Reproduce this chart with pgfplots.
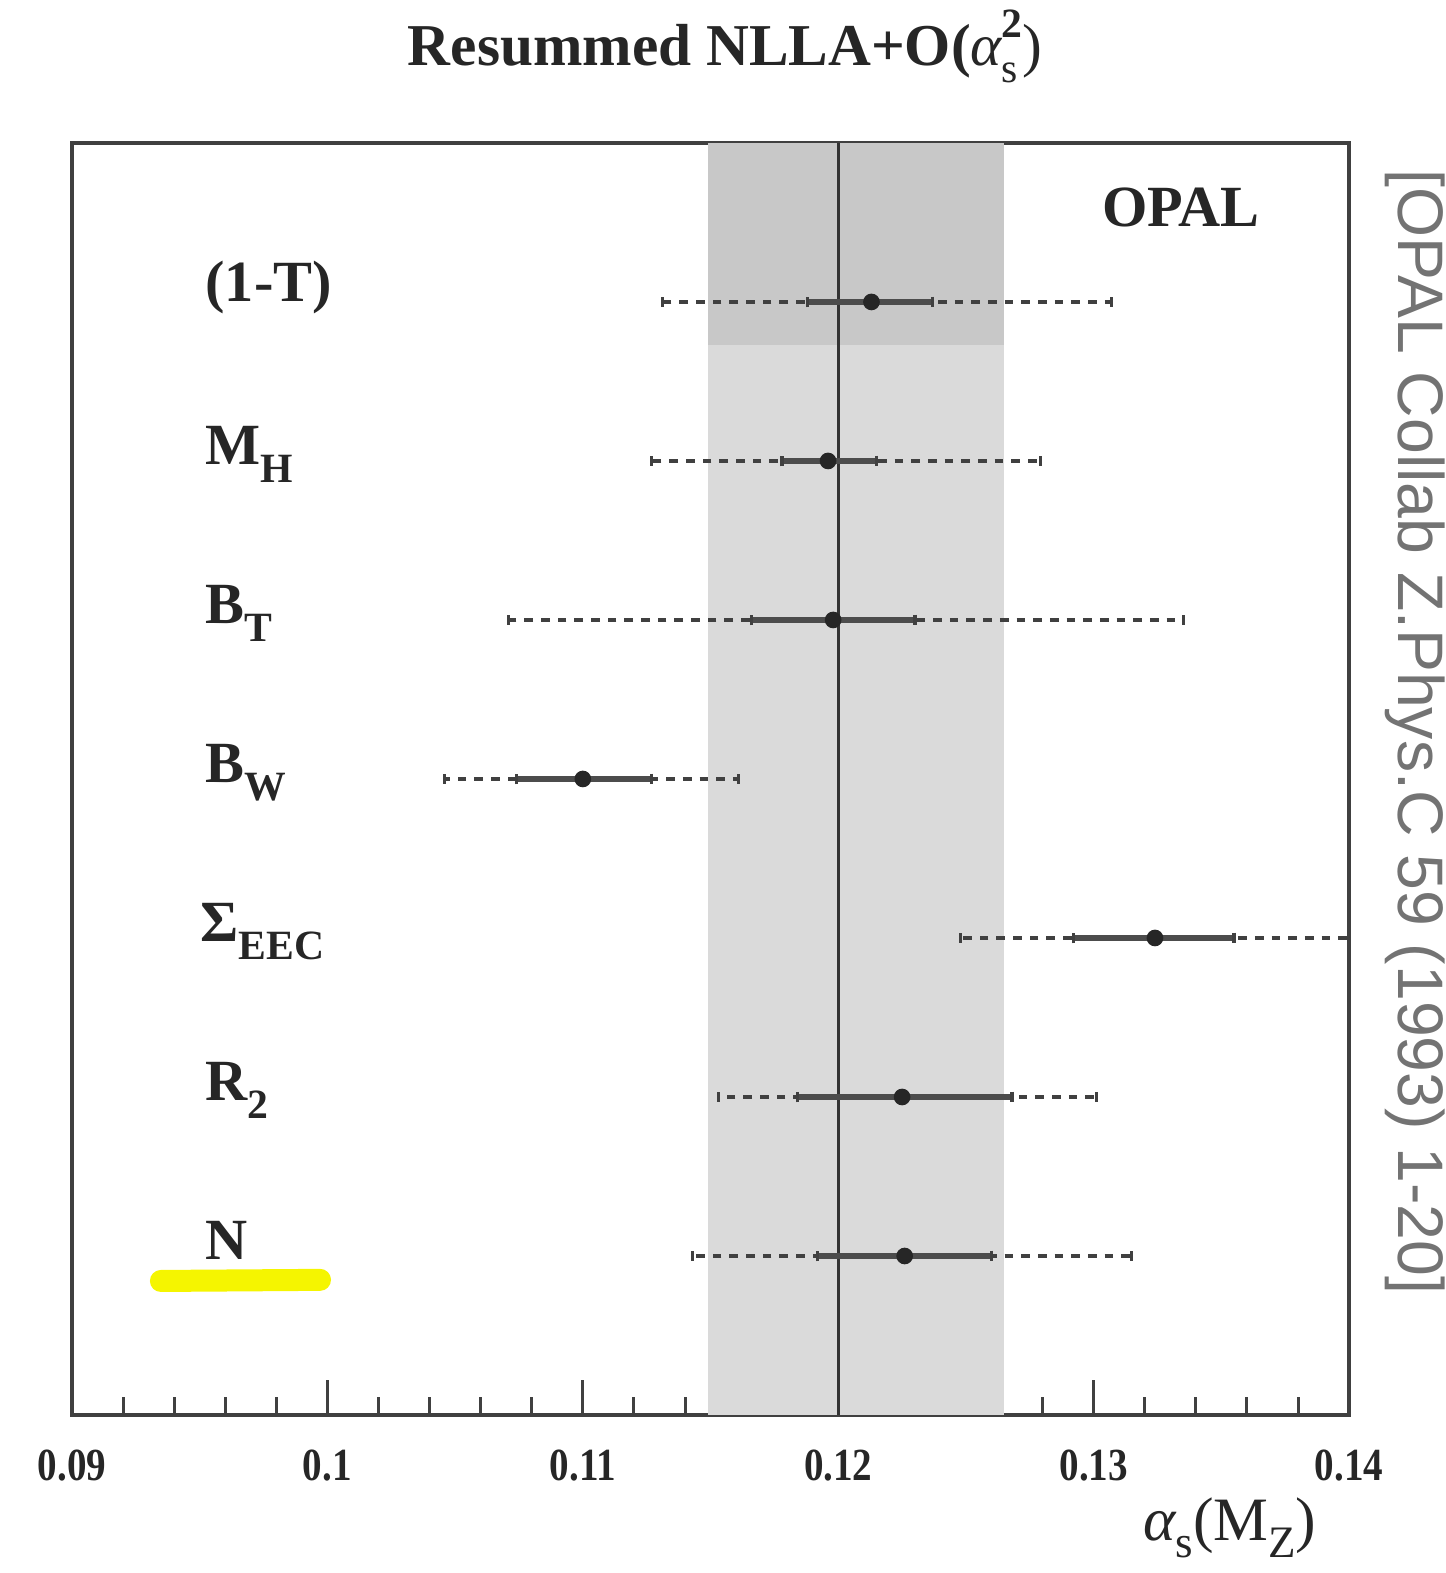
\documentclass[border=0pt]{standalone}
\usepackage{pgfplots}
\usepackage{pgfplotstable}
\pgfplotsset{compat=1.18}
\usepackage{fontspec}
\setmainfont{Liberation Serif}[Ligatures=TeX]
\newfontfamily\citefont{Liberation Sans}
\newcommand\lab{\fontsize{17.5}{18}\selectfont\bfseries}
\newcommand\sub[1]{\raisebox{-5.5pt}{\fontsize{12.5}{12.5}\selectfont #1}}

\pgfplotstableread{
y x inlo inhi outlo outhi
7 0.1213 0.1188 0.1237 0.1131 0.1307
6 0.1196 0.1178 0.1215 0.1127 0.1279
5 0.1198 0.1166 0.1230 0.1071 0.1335
4 0.1100 0.1074 0.1127 0.1046 0.1161
3 0.1324 0.1292 0.1355 0.1248 0.1400
2 0.1225 0.1184 0.1268 0.1153 0.1301
1 0.1226 0.1192 0.1260 0.1143 0.1315
}\measurements

\begin{document}
\begin{tikzpicture}
\begin{axis}[
  scale only axis,
  width=383.1pt, height=381.6pt,
  xmin=0.09, xmax=0.14, ymin=0, ymax=8,
  clip=false,
  axis line style={black!75, line width=1pt},
  xtick={0.09,0.10,0.11,0.12,0.13,0.14},
  xticklabels={0.09,0.1,0.11,0.12,0.13,0.14},
  minor x tick num=4,
  ytick=\empty,
  xtick pos=bottom,
  tick align=inside,
  major tick length=10.5pt,
  minor tick length=5.4pt,
  every tick/.style={black!75, line width=0.9pt},
  xticklabel style={font=\fontsize{13.8}{14}\selectfont\bfseries, xscale=0.85, yshift=-7pt, text=black!85},
]
% shaded band of the combined result
\addplot[fill={rgb,255:red,218;green,218;blue,218}, draw=none] coordinates {(0.1149,0) (0.1265,0) (0.1265,8) (0.1149,8)} -- cycle;
\addplot[fill={rgb,255:red,200;green,200;blue,200}, draw=none] coordinates {(0.1149,6.73) (0.1265,6.73) (0.1265,8) (0.1149,8)} -- cycle;
% central value
\addplot[black!80, line width=1pt] coordinates {(0.12,0) (0.12,8)};
% total errors (dashed)
\addplot[only marks, mark=none,
  error bars/.cd, x dir=both, x explicit,
  error bar style={black!75, line width=1.3pt, dash pattern=on 2.6pt off 2.4pt},
  error mark=|, error mark options={solid, black!75, line width=0.9pt, mark size=1.4pt}]
  table[x=x, y=y, x error plus expr=\thisrow{outhi}-\thisrow{x}, x error minus expr=\thisrow{x}-\thisrow{outlo}] {\measurements};
% statistical/experimental errors (solid)
\addplot[only marks, mark=none,
  error bars/.cd, x dir=both, x explicit,
  error bar style={black!70, line width=1.6pt, solid},
  error mark=|, error mark options={black!75, line width=1pt, mark size=1.6pt}]
  table[x=x, y=y, x error plus expr=\thisrow{inhi}-\thisrow{x}, x error minus expr=\thisrow{x}-\thisrow{inlo}] {\measurements};
% central points
\addplot[only marks, mark=*, mark size=2.3pt, black!85] table[x=x, y=y] {\measurements};

% labels
\begin{scope}[every node/.style={inner sep=0pt, text=black!85}]
\node[anchor=base west] at (axis cs:0.0952,7) {\lab (1-T)};
\node[anchor=base west] at (axis cs:0.0952,5.98) {\lab M\sub{H}};
\node[anchor=base west] at (axis cs:0.0952,4.98) {\lab B\sub{T}};
\node[anchor=base west] at (axis cs:0.0952,3.98) {\lab B\sub{W}};
\node[anchor=base west] at (axis cs:0.0950,2.98) {\lab Σ\sub{EEC}};
\node[anchor=base west] at (axis cs:0.0952,1.98) {\lab R\sub{2}};
\node[anchor=base west] at (axis cs:0.0952,0.98) {\lab N};
\node[anchor=base west] at (rel axis cs:0.806,0.934) {\lab OPAL};

% title
\node[anchor=base] at (rel axis cs:0.5115,1.0605) {\fontsize{17.8}{18}\selectfont\bfseries Resummed NLLA+O(\mdseries\itshape α\upshape\rlap{\raisebox{-5pt}{\fontsize{12.5}{12}\selectfont s}}\raisebox{8.5pt}{\fontsize{12.5}{12}\selectfont\bfseries 2})};
% x label
\node[anchor=base east] at (rel axis cs:0.975,-0.099) {\fontsize{18.5}{19}\selectfont \itshape α\upshape\raisebox{-5pt}{\fontsize{13.5}{13}\selectfont s}(M\raisebox{-5pt}{\fontsize{13.5}{13}\selectfont Z})};
% citation
\node[rotate=-90, anchor=center, text=black!55] at (rel axis cs:1.0517,0.537) {\citefont\fontsize{19.3}{20}\selectfont [OPAL Collab Z.Phys.C 59 (1993) 1-20]};
\end{scope}

% highlighter stroke
\draw[line width=6.6pt, line cap=round, color={rgb,255:red,245;green,245;blue,0}] (axis cs:0.09348,0.843) -- (axis cs:0.09971,0.850);

% bounding box matching the reference proportions
\path (rel axis cs:-0.0564,-0.1242) rectangle (rel axis cs:1.0744,1.1124);
\end{axis}
\end{tikzpicture}
\end{document}
